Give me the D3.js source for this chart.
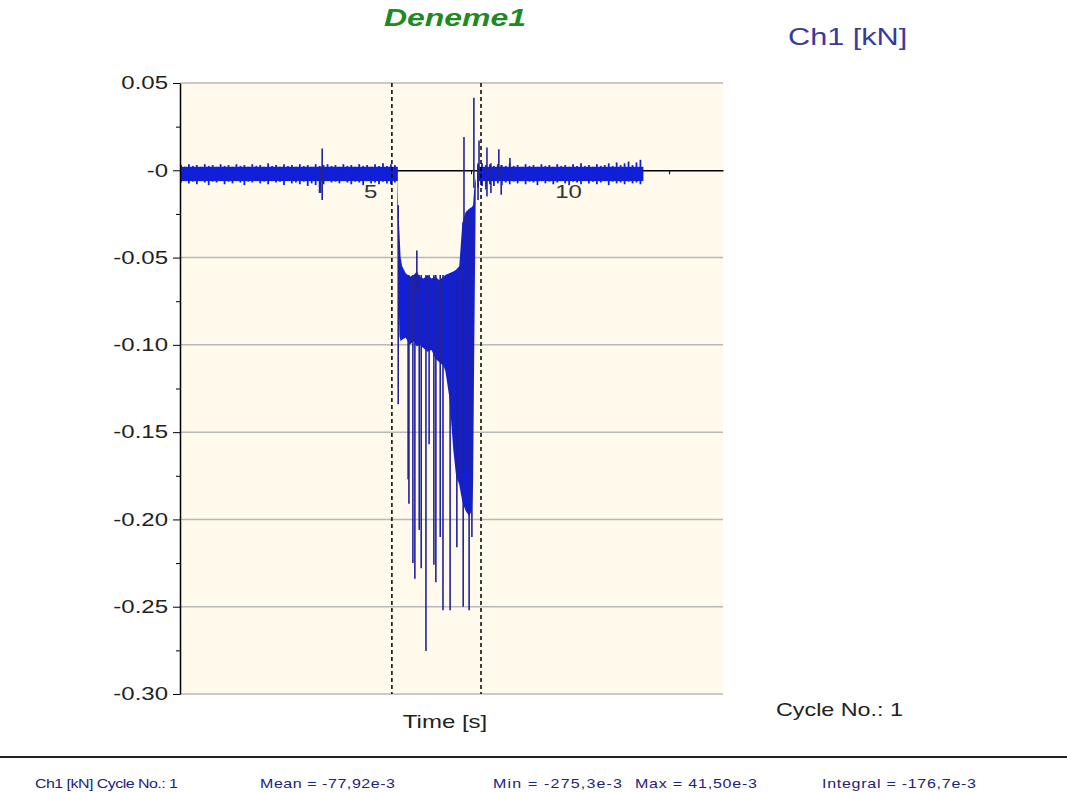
<!DOCTYPE html>
<html>
<head>
<meta charset="utf-8">
<script src="https://cdn.jsdelivr.net/npm/d3@7"></script>
<style>
body { margin: 0; background: #fff; }
svg { display: block; }
text { font-family: "Liberation Sans", Arial, sans-serif; }
</style>
</head>
<body>
<svg></svg>
<script>
const preT  = [0.15,0.25,0.35,0.45,0.55,0.65,0.75,0.85,0.95,1.05,1.15,1.25,1.35,1.45,1.55,1.65,1.75,1.85,1.95,2.05,2.15,2.25,2.35,2.45,2.55,2.65,2.75,2.85,2.95,3.05,3.15,3.25,3.35,3.45,3.55,3.65,3.75,3.85,3.95,4.05,4.15,4.25,4.35,4.45,4.55,4.65,4.75,4.85,4.95,5.05,5.15,5.25,5.35,5.45,5.55];
const preHi = [0.003,0.002,0.0035,0.0025,0.003,0.002,0.0035,0.0025,0.003,0.002,0.0035,0.0025,0.003,0.002,0.0035,0.0025,0.003,0.002,0.0035,0.0025,0.003,0.002,0.004,0.0025,0.003,0.002,0.0035,0.0025,0.003,0.002,0.0035,0.0025,0.003,0.002,0.0035,0.0025,0.003,0.0035,0.0025,0.003,0.002,0.0035,0.0025,0.003,0.002,0.0035,0.0025,0.003,0.002,0.0035,0.0025,0.004,0.0025,0.0035,0.003];
const preLo = [-0.007,-0.006,-0.0075,-0.0065,-0.008,-0.006,-0.007,-0.0085,-0.0065,-0.007,-0.006,-0.008,-0.0065,-0.0075,-0.006,-0.007,-0.0085,-0.0065,-0.007,-0.006,-0.0075,-0.0065,-0.008,-0.006,-0.007,-0.0065,-0.0085,-0.006,-0.0075,-0.007,-0.008,-0.0065,-0.009,-0.0075,-0.0085,-0.013,-0.008,-0.006,-0.007,-0.0065,-0.0075,-0.006,-0.007,-0.008,-0.0065,-0.007,-0.0085,-0.006,-0.0075,-0.007,-0.008,-0.0065,-0.0075,-0.008,-0.007];

const postT  = [7.65,7.75,7.85,7.95,8.05,8.15,8.25,8.35,8.45,8.55,8.65,8.75,8.85,8.95,9.05,9.15,9.25,9.35,9.45,9.55,9.65,9.75,9.85,9.95,10.05,10.15,10.25,10.35,10.45,10.55,10.65,10.75,10.85,10.95,11.05,11.15,11.25,11.35,11.45,11.55,11.65,11.75];
const postHi = [0.003,0.004,0.003,0.0035,0.0025,0.0035,0.003,0.0025,0.004,0.0025,0.003,0.002,0.0035,0.0025,0.003,0.002,0.0035,0.0025,0.003,0.002,0.0035,0.0025,0.003,0.002,0.0035,0.0025,0.004,0.0025,0.003,0.002,0.0035,0.0025,0.003,0.004,0.0025,0.0045,0.003,0.004,0.005,0.003,0.0045,0.006];
const postLo = [-0.01,-0.009,-0.011,-0.008,-0.009,-0.0075,-0.0085,-0.007,-0.008,-0.0065,-0.0075,-0.006,-0.008,-0.0065,-0.007,-0.0085,-0.006,-0.0075,-0.0065,-0.008,-0.007,-0.006,-0.0075,-0.0085,-0.0065,-0.007,-0.008,-0.006,-0.0075,-0.0065,-0.008,-0.007,-0.006,-0.0085,-0.0065,-0.0075,-0.007,-0.008,-0.0065,-0.0075,-0.007,-0.008];

// solid core of the resting noise band
const coreHi = 0.002;
const coreLo = -0.0062;

// dense part of the load step (upper and lower edge of the solid blue block)
const blockT  = [5.63,5.66,5.69,5.72,5.76,5.85,5.95,6.05,6.13,6.2,6.3,6.4,6.5,6.6,6.7,6.8,6.85,6.95,7.05,7.12,7.2,7.28,7.36,7.45,7.52,7.55,7.58,7.62];
const blockHi = [-0.002,-0.022,-0.035,-0.05,-0.055,-0.059,-0.061,-0.06,-0.058,-0.061,-0.062,-0.06,-0.062,-0.061,-0.063,-0.061,-0.06,-0.059,-0.058,-0.057,-0.055,-0.03,-0.024,-0.022,-0.021,-0.02,-0.01,-0.004];
const blockLo = [-0.004,-0.06,-0.095,-0.098,-0.097,-0.096,-0.1,-0.098,-0.101,-0.1,-0.102,-0.104,-0.103,-0.108,-0.11,-0.112,-0.115,-0.13,-0.16,-0.175,-0.18,-0.19,-0.195,-0.198,-0.195,-0.18,-0.1,-0.006];

// single spikes
const spikeT  = [3.7,3.74,5.66,5.91,5.93,6.03,6.08,6.13,6.19,6.24,6.36,6.44,6.56,6.61,6.72,6.79,6.97,7.14,7.22,7.3,7.32,7.37,7.45,7.52,7.57,7.675,7.7,7.9,8.0,8.2,8.26,8.48];
const spikeHi = [0.002,0.0125,-0.02,-0.06,-0.06,-0.06,-0.06,-0.046,-0.06,-0.06,-0.06,-0.06,-0.06,-0.06,-0.06,-0.06,-0.06,-0.06,-0.055,-0.03,0.019,-0.025,-0.025,-0.025,0.0415,0.004,0.017,0.013,0.004,0.012,0.003,0.007];
const spikeLo = [-0.013,-0.017,-0.134,-0.177,-0.191,-0.225,-0.234,-0.07,-0.206,-0.228,-0.2753,-0.157,-0.226,-0.236,-0.21,-0.252,-0.252,-0.216,-0.176,-0.25,-0.03,-0.172,-0.252,-0.21,-0.01,-0.017,-0.005,-0.015,-0.013,-0.005,-0.014,-0.006];

const cursors = [5.5, 7.75];
const yTicks = [0.05, 0, -0.05, -0.10, -0.15, -0.20, -0.25, -0.30];
const yTickLabels = ['0.05', '-0', '-0.05', '-0.10', '-0.15', '-0.20', '-0.25', '-0.30'];
const yMinor = [0.025, -0.025, -0.075, -0.125, -0.175, -0.225, -0.275];
const xTicks = [5, 10];
const xMinor = [2.5, 7.5, 12.5];
const stats = ['Ch1 [kN] Cycle No.: 1', 'Mean = -77,92e-3', 'Min = -275,3e-3', 'Max = 41,50e-3', 'Integral = -176,7e-3'];

const w = 1067;
const h = 792;
const sx = 4 / 3;   // the screenshot is stretched sideways
const blue = '#1020d8';
let svg = d3.select('svg').attr('width', w).attr('height', h);

let xScale = d3.scaleLinear().domain([0.15, 13.86]).range([180, 723]);
let yScale = d3.scaleLinear().domain([-0.30, 0.05]).range([694, 83]);

let addText = (str, x, y, size, color, anchor, extra) => {
    let t = svg.append('text')
        .attr('transform', `translate(${x},${y}) scale(${sx},1)`)
        .attr('font-size', size)
        .attr('fill', color)
        .attr('text-anchor', anchor || 'start')
        .text(str);
    if (extra) extra(t);
    return t;
}

// plot background
svg.append('rect')
   .attr('x', 180).attr('y', 83)
   .attr('width', 723 - 180).attr('height', 694 - 83)
   .attr('fill', '#fffaec');

// grid
svg.append('g').selectAll('line')
   .data(yTicks.filter(d => d !== 0))
   .enter()
   .append('line')
   .attr('x1', 180).attr('x2', 723)
   .attr('y1', d => yScale(d)).attr('y2', d => yScale(d))
   .attr('stroke', '#b8b8b8')
   .attr('stroke-width', 1.5);

// x axis on the zero line
let xAxis = d3.axisBottom(xScale).tickValues(xTicks).tickSize(6).tickSizeOuter(0).tickFormat(d3.format('d'));
let gx = svg.append('g')
   .attr('transform', `translate(0, ${yScale(0)})`)
   .call(xAxis);
gx.select('.domain').attr('stroke', '#000').attr('stroke-width', 1.5);
gx.selectAll('.tick line').attr('stroke', '#000');
gx.selectAll('.tick text')
   .attr('x', -1.5)
   .attr('y', 15).attr('dy', '0.71em')
   .attr('transform', `scale(${sx},1)`)
   .attr('font-size', 18)
   .attr('font-family', '"Liberation Sans", Arial, sans-serif')
   .attr('fill', '#333');
let gxm = svg.append('g')
   .attr('transform', `translate(0, ${yScale(0)})`)
   .call(d3.axisBottom(xScale).tickValues(xMinor).tickSize(4).tickSizeOuter(0).tickFormat(''));
gxm.select('.domain').remove();
gxm.selectAll('.tick line').attr('stroke', '#000');

// signal
let data = (ts, his, los) => ts.map((t, i) => ({t: t, hi: his[i], lo: los[i]}));

let drawBand = (rows) => {
    let first = rows[0].t;
    let last = rows[rows.length - 1].t + 0.1;
    svg.append('rect')
       .attr('x', xScale(first))
       .attr('width', xScale(last) - xScale(first))
       .attr('y', yScale(coreHi))
       .attr('height', yScale(coreLo) - yScale(coreHi))
       .attr('fill', blue);
    svg.append('g').selectAll('line')
       .data(rows)
       .enter()
       .append('line')
       .attr('x1', d => xScale(d.t) + 1).attr('x2', d => xScale(d.t) + 1)
       .attr('y1', d => yScale(d.hi)).attr('y2', d => yScale(d.lo))
       .attr('stroke', blue)
       .attr('stroke-width', 1.8);
}
drawBand(data(preT, preHi, preLo));
drawBand(data(postT, postHi, postLo));

let block = d3.area()
   .x(d => xScale(d.t))
   .y0(d => yScale(d.lo))
   .y1(d => yScale(d.hi));
svg.append('path')
   .datum(data(blockT, blockHi, blockLo))
   .attr('d', block)
   .attr('fill', blue);

svg.append('g').selectAll('line')
   .data(data(spikeT, spikeHi, spikeLo))
   .enter()
   .append('line')
   .attr('x1', d => xScale(d.t)).attr('x2', d => xScale(d.t))
   .attr('y1', d => yScale(d.hi)).attr('y2', d => yScale(d.lo))
   .attr('stroke', '#22229e')
   .attr('stroke-width', 1.6);

// cursors
svg.append('g').selectAll('line')
   .data(cursors)
   .enter()
   .append('line')
   .attr('x1', d => xScale(d)).attr('x2', d => xScale(d))
   .attr('y1', 83).attr('y2', 694)
   .attr('stroke', '#000')
   .attr('stroke-width', 1.5)
   .attr('stroke-dasharray', '4,3');

// y axis
let yAxis = d3.axisLeft(yScale).tickValues(yTicks).tickSize(7).tickSizeOuter(0)
   .tickFormat((d, i) => yTickLabels[i]);
let gy = svg.append('g').attr('transform', 'translate(180, 0)').call(yAxis);
gy.select('.domain').attr('stroke', '#000').attr('stroke-width', 1.5);
gy.selectAll('.tick line').attr('stroke', '#000');
gy.selectAll('.tick text')
   .attr('x', -9)
   .attr('transform', `scale(${sx},1)`)
   .attr('font-size', 18)
   .attr('font-family', '"Liberation Sans", Arial, sans-serif')
   .attr('fill', '#222');
let gym = svg.append('g').attr('transform', 'translate(180, 0)')
   .call(d3.axisLeft(yScale).tickValues(yMinor).tickSize(4).tickFormat(''));
gym.select('.domain').remove();
gym.selectAll('.tick line').attr('stroke', '#000');

// titles and labels
addText('Deneme1', 455, 26, 24, '#1f8a1f', 'middle', t => t.attr('font-weight', 'bold').attr('font-style', 'italic'));
addText('Ch1 [kN]', 788, 45, 23, '#3a3a9c');
addText('Time [s]', 445, 728, 18, '#222', 'middle');
addText('Cycle No.: 1', 776, 716, 17.5, '#222');

// footer
svg.append('line')
   .attr('x1', 0).attr('x2', w)
   .attr('y1', 757).attr('y2', 757)
   .attr('stroke', '#222')
   .attr('stroke-width', 2);
const statX = [35, 260, 493, 635, 822];
const statW = [143, 135, 129, 122, 154];
stats.forEach((s, i) => addText(s, statX[i], 788, 12, '#1a237e', 'start',
    t => t.attr('textLength', statW[i] / sx).attr('lengthAdjust', 'spacing')));
</script>
</body>
</html>
